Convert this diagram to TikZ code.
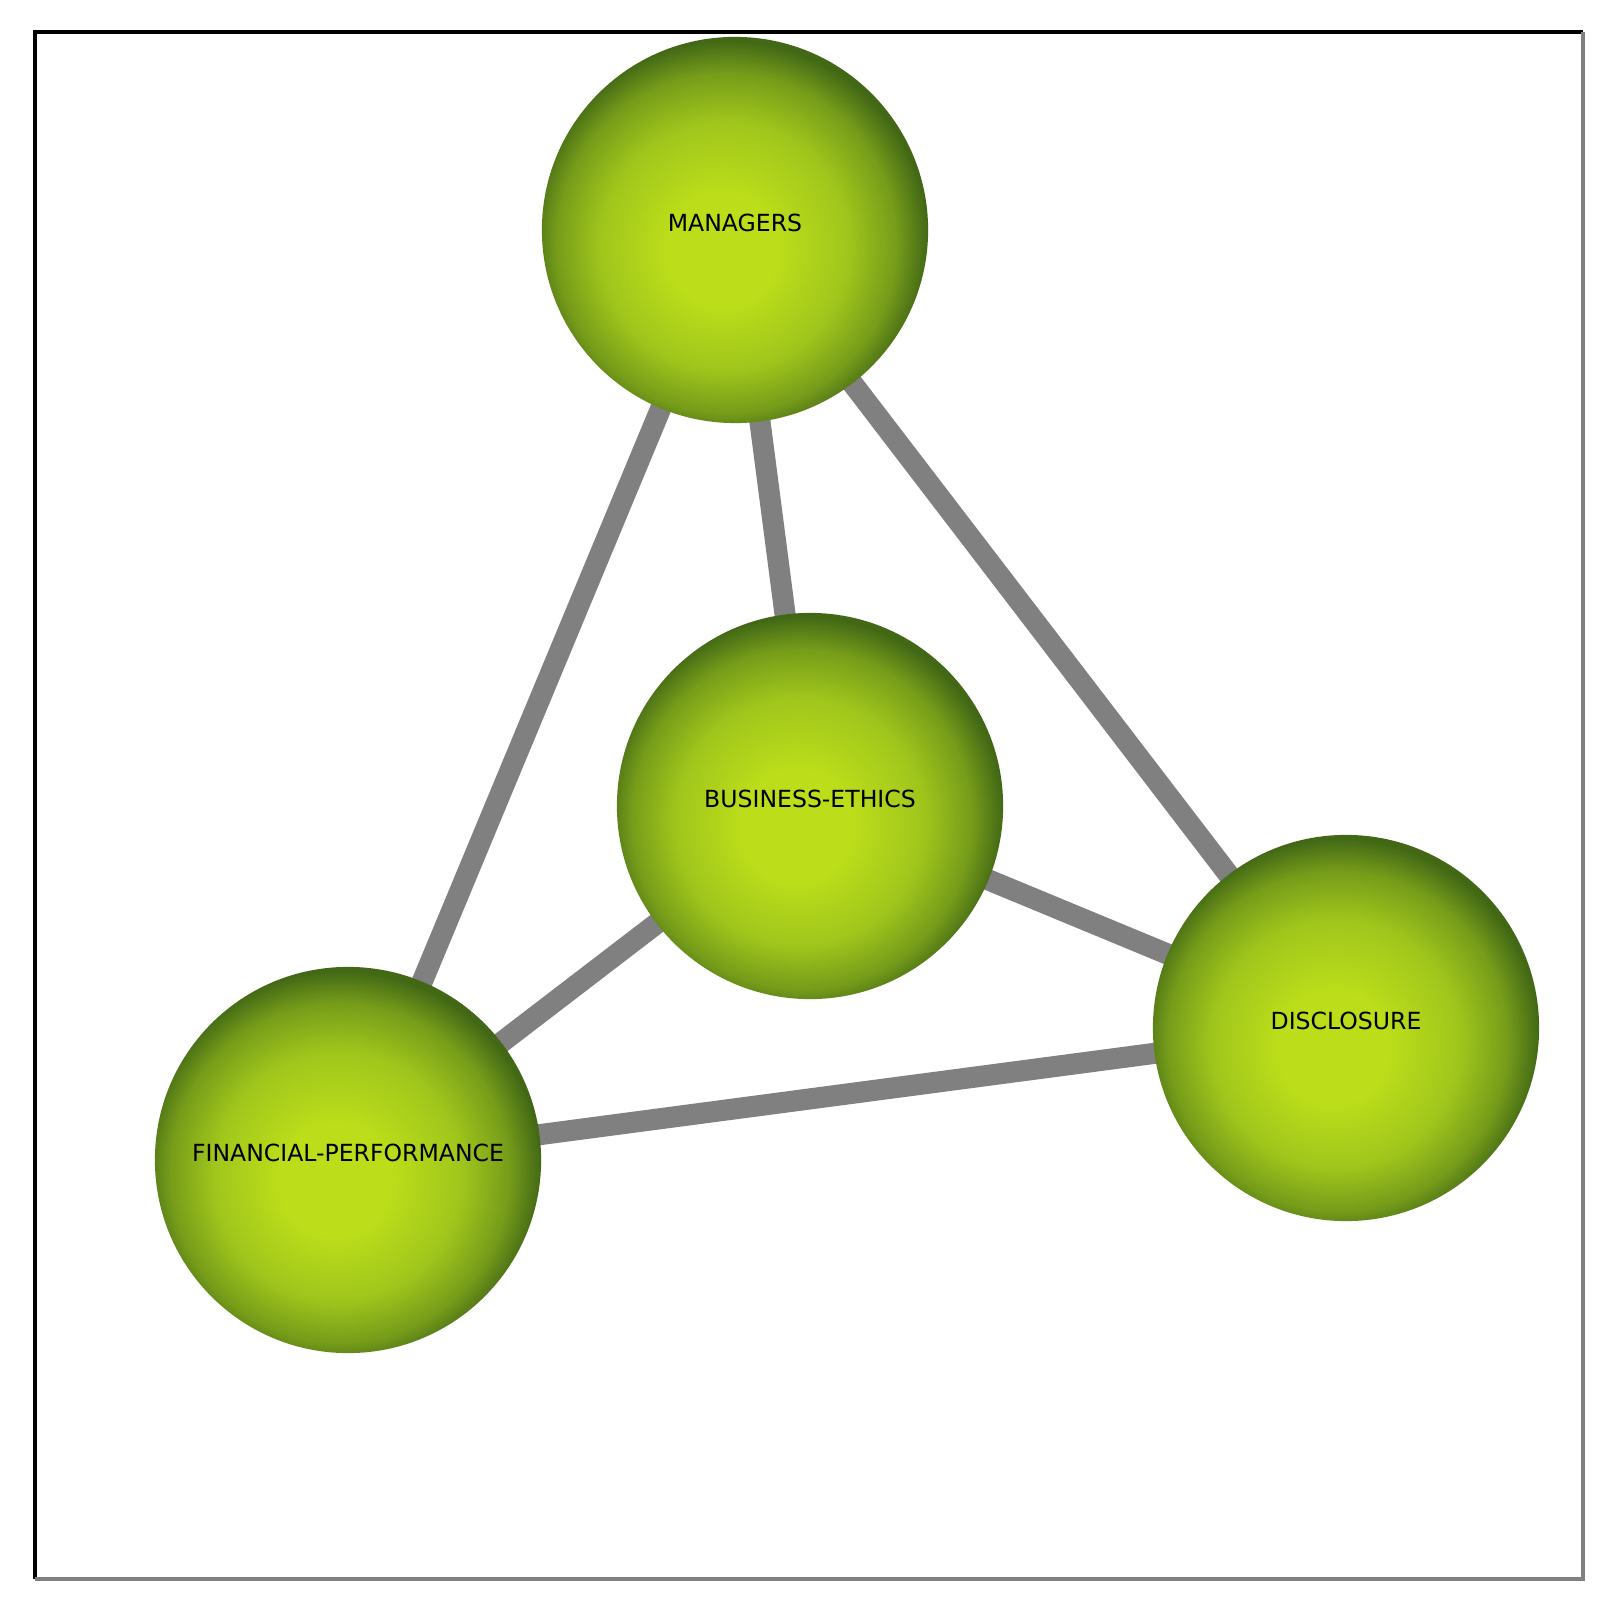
\documentclass[tikz,border=0pt]{standalone}
\usepackage{fontspec}
\setsansfont{DejaVu Sans}
\usepackage{tikz}
\usetikzlibrary{backgrounds}
\definecolor{ballhi}{RGB}{188,222,26}
\definecolor{ballmid}{RGB}{160,198,28}
\definecolor{ballout}{RGB}{118,156,26}
\definecolor{balllo}{RGB}{66,104,22}
\definecolor{linkgray}{RGB}{128,128,128}
\pgfdeclareradialshading{greenball}{\pgfpoint{-2bp}{-3bp}}{color(0bp)=(ballhi); color(7bp)=(ballhi); color(16bp)=(ballmid); color(22bp)=(ballout); color(26bp)=(balllo); color(50bp)=(balllo)}

\begin{document}
\begin{tikzpicture}[x=0.01cm,y=-0.01cm]
        \tikzstyle{ball}=[circle,shading=greenball,minimum size=3.86cm,inner sep=0pt,
            text depth=4.2pt,font=\sffamily\fontsize{6.7}{7}\selectfont]
        \tikzstyle{link}=[draw=linkgray,line width=6pt]
            \useasboundingbox (0,0) rectangle (1619,1619);

            \node[ball] (managers) at (735,230) {MANAGERS};
            \node[ball] (ethics) at (810,806) {BUSINESS-ETHICS};
            \node[ball] (disclosure) at (1346,1028) {DISCLOSURE};
            \node[ball] (finance) at (348,1160) {FINANCIAL-PERFORMANCE};

            \begin{scope}[on background layer]
            \draw[link] (managers.center) -- (finance.center);
            \draw[link] (managers.center) -- (ethics.center);
            \draw[link] (managers.center) -- (disclosure.center);
            \draw[link] (ethics.center) -- (finance.center);
            \draw[link] (ethics.center) -- (disclosure.center);
            \draw[link] (finance.center) -- (disclosure.center);
            \end{scope}

            \draw[line width=0.9pt] (35,1579) -- (35,32) -- (1583,32);
            \draw[line width=0.9pt, linkgray] (1583,32) -- (1583,1579) -- (35,1579);
        \end{tikzpicture}
\end{document}
